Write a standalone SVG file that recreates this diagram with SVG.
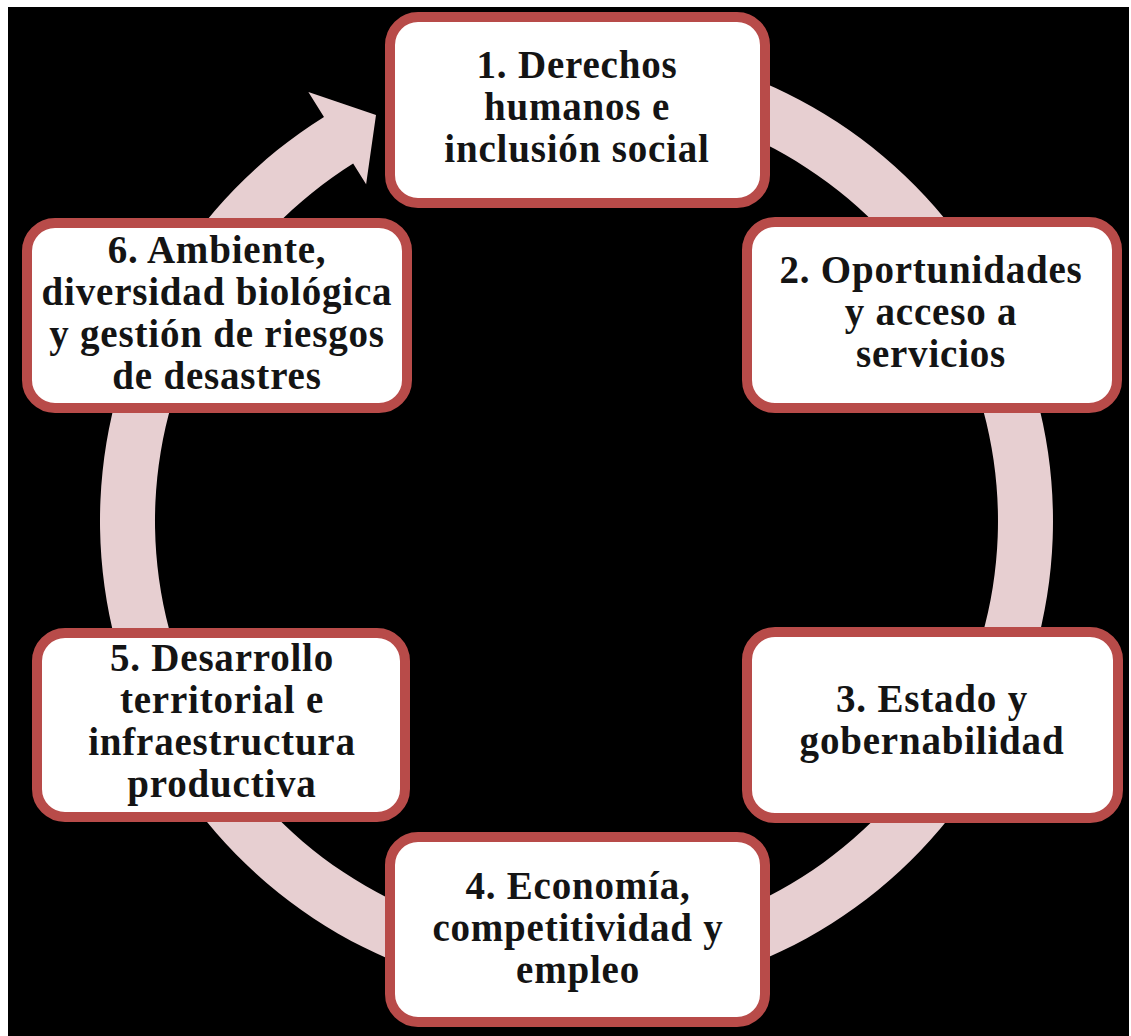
<svg xmlns="http://www.w3.org/2000/svg" width="1131" height="1036" viewBox="0 0 1131 1036">
  <style>
    .box { fill: #ffffff; stroke: #B84B49; stroke-width: 10; }
    .lbl { font-family: "Liberation Serif", "Times New Roman", serif; font-weight: bold; font-size: 39px; letter-spacing: 0.8px; fill: #141414; text-anchor: middle; }
    .ring { fill: #E7CFD1; }
  </style>
  <rect x="0" y="0" width="1131" height="1036" fill="#ffffff"/>
  <rect x="8" y="7" width="1121" height="1029" fill="#000000"/>

  <!-- circular flow arrow running clockwise behind the boxes -->
  <g id="connectors">
    <path class="ring" d="M 534.97 46.31 A 476.5 476.5 0 1 1 323.99 116.90 L 308.36 91.89 L 376 115 L 366.12 184.32 L 353.14 163.55 A 421.5 421.5 0 1 0 539.76 101.11 Z"/>
  </g>

  <g id="node1">
    <rect class="box" x="390" y="17" width="375" height="186" rx="28"/>
    <text class="lbl" x="577" y="78">1. Derechos</text>
    <text class="lbl" x="577" y="120">humanos e</text>
    <text class="lbl" x="577" y="162">inclusión social</text>
  </g>
  <g id="node2">
    <rect class="box" x="747" y="222" width="370" height="186" rx="28"/>
    <text class="lbl" x="931" y="283">2. Oportunidades</text>
    <text class="lbl" x="931" y="325">y acceso a</text>
    <text class="lbl" x="931" y="367">servicios</text>
  </g>
  <g id="node3">
    <rect class="box" x="747" y="632" width="371" height="186" rx="28"/>
    <text class="lbl" x="932" y="712">3. Estado y</text>
    <text class="lbl" x="932" y="754">gobernabilidad</text>
  </g>
  <g id="node4">
    <rect class="box" x="390" y="837" width="375" height="185" rx="28"/>
    <text class="lbl" x="578" y="899">4. Economía,</text>
    <text class="lbl" x="578" y="941">competitividad y</text>
    <text class="lbl" x="578" y="983">empleo</text>
  </g>
  <g id="node5">
    <rect class="box" x="37" y="633" width="368" height="184" rx="28"/>
    <text class="lbl" x="222" y="671">5. Desarrollo</text>
    <text class="lbl" x="222" y="713">territorial e</text>
    <text class="lbl" x="222" y="755">infraestructura</text>
    <text class="lbl" x="222" y="797">productiva</text>
  </g>
  <g id="node6">
    <rect class="box" x="27" y="223" width="380" height="185" rx="28"/>
    <text class="lbl" x="217" y="263">6. Ambiente,</text>
    <text class="lbl" x="217" y="305">diversidad biológica</text>
    <text class="lbl" x="217" y="347">y gestión de riesgos</text>
    <text class="lbl" x="217" y="389">de desastres</text>
  </g>
</svg>
